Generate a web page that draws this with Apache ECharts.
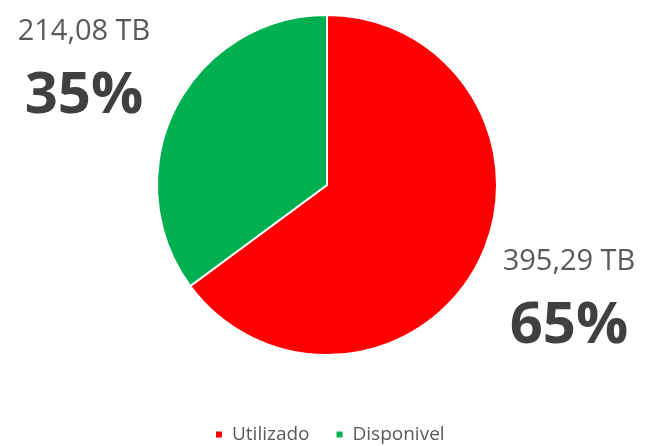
<!DOCTYPE html>
<html>
<head>
<meta charset="utf-8">
<script src="https://cdn.jsdelivr.net/npm/echarts@6/dist/echarts.min.js"></script>
<style>
  html, body { margin: 0; padding: 0; background: #fff; }
  #chart { width: 645px; height: 446px; }
</style>
</head>
<body>
<div id="chart"></div>
<script>
// Storage usage split (TB)
const categories = ['Utilizado', 'Disponivel'];
const valuesTB = [395.29, 214.08];
const sliceColors = ['#FF0000', '#00B050'];

const FONT = '"Open Sans", "Noto Sans", sans-serif';

// Label anchor per slice: centre x and top y of the text block
const labelAnchors = [
  { x: 569, y: 239 },
  { x: 84, y: 9 }
];

const chart = echarts.init(document.getElementById('chart'), null, { renderer: 'canvas' });

const fmtTB = v => v.toFixed(2).replace('.', ',') + ' TB';

chart.setOption({
  animation: false,
  color: sliceColors,
  legend: {
    data: categories,
    top: 420,
    left: 209,
    icon: 'rect',
    itemWidth: 8,
    itemHeight: 8,
    itemGap: 25,
    textStyle: { fontFamily: FONT, fontSize: 19, color: '#595959', padding: [0, 0, 0, 4] }
  },
  series: [{
    type: 'pie',
    center: [327, 185],
    radius: 170,
    startAngle: 90,
    clockwise: true,
    itemStyle: { borderColor: '#ffffff', borderWidth: 2 },
    labelLine: { show: false },
    label: {
      show: true,
      position: 'outside',
      overflow: 'none',
      formatter: p => '{v|' + fmtTB(p.value) + '}\n{p|' + Math.round(p.percent) + '%}',
      rich: {
        v: { fontFamily: FONT, fontSize: 29, color: '#595959', lineHeight: 46, align: 'center' },
        p: { fontFamily: FONT, fontSize: 58, fontWeight: 'bold', color: '#404040', lineHeight: 82, align: 'center' }
      }
    },
    labelLayout: params => {
      const a = labelAnchors[params.dataIndex];
      return { x: a.x, y: a.y, align: 'center', verticalAlign: 'top' };
    },
    data: categories.map((name, i) => ({ name, value: valuesTB[i] }))
  }]
});
</script>
</body>
</html>
